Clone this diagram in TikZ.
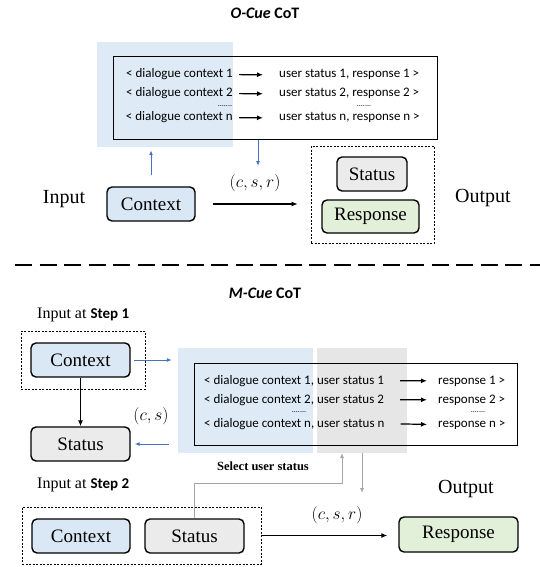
\documentclass[tikz,border=0pt]{standalone}
\usepackage{fontspec}
\setmainfont{Liberation Serif}
\newfontfamily\tnr{Liberation Serif}
\newfontfamily\calib{Carlito}
\usetikzlibrary{arrows.meta}

\definecolor{ctxblue}{HTML}{DAE8F5}
\definecolor{stagray}{HTML}{EBEBEB}
\definecolor{resgreen}{HTML}{E2F0D9}
\definecolor{shadeblue}{HTML}{DEEBF7}
\definecolor{shadegray}{HTML}{E7E6E6}
\definecolor{arrblue}{HTML}{4472C4}
\definecolor{arrgray}{HTML}{A5A5A5}

\begin{document}
\begin{tikzpicture}[x=1pt,y=-1pt,
  nbox/.style={draw,line width=1.4pt,rounded corners=5pt,minimum height=34pt,inner sep=0pt,font=\tnr\fontsize{19}{19}\selectfont},
  ctxbox/.style={nbox,fill=ctxblue},
  stabox/.style={nbox,fill=stagray},
  resbox/.style={nbox,fill=resgreen},
  grpbox/.style={draw,line width=0.6pt,dash pattern=on 2pt off 1.5pt,inner sep=0pt},
  shade/.style={inner sep=0pt,minimum height=105pt},
  tablebox/.style={draw,line width=1pt,inner sep=0pt},
  row/.style={inner sep=0pt,font=\calib\fontsize{13}{13}\selectfont},
  dots/.style={inner sep=0pt,font=\calib\fontsize{8}{8}\selectfont},
  lbl/.style={font=\tnr\fontsize{20}{20}\selectfont},
  steplbl/.style={anchor=west,inner sep=0pt,font=\tnr\fontsize{16}{16}\selectfont},
  mathlbl/.style={font=\fontsize{19}{19}\selectfont},
  title/.style={font=\calib\bfseries\fontsize{16}{16}\selectfont},
  karr/.style={-{Latex[length=6pt,width=5pt]},line width=1.2pt},
  barr/.style={-{Latex[length=5pt,width=4pt]},arrblue,line width=1pt},
  garr/.style={-{Latex[length=5pt,width=4pt]},arrgray,line width=1pt}]
\useasboundingbox (0,0) rectangle (540,567);

% O-Cue CoT
\node[title] (otitle) at (265,13) {{\itshape O-Cue} CoT};
\node[shade,fill=shadeblue,minimum width=136pt] (oshade) at (165,94.5) {};
\node[tablebox,minimum width=324pt,minimum height=82pt] (otable) at (275,98) {};
\foreach \i/\y in {1/78,2/97,n/121}{
  \node[row,anchor=base east] (ol\i) at (233,\y) {< dialogue context \i};
  \node[row,anchor=base west] (or\i) at (279,\y) {user status \i, response \i\ >};
  \draw[karr,shorten <=6pt,shorten >=16pt] (ol\i.east) -- (or\i.west);
}
\node[dots] (odl) at (225,106) {.......};
\node[dots] (odr) at (364,106) {.......};

\node[lbl] (oin) at (64,199) {Input};
\node[ctxbox,minimum width=88pt] (octx) at (151,204) {Context};
\node[grpbox,minimum width=123pt,minimum height=97pt] (oout) at (372.5,194.5) {};
\node[stabox,minimum width=70pt] (osta) at (372,174) {Status};
\node[resbox,minimum width=97pt,minimum height=33pt] (ores) at (370.5,216.5) {Response};
\node[lbl] (oouttxt) at (483,198) {Output};
\node[mathlbl] (ocsr) at (255,183) {$(c,s,r)$};
\coordinate (odown) at (258,166);

\draw[barr,shorten <=11pt,shorten >=3pt] (octx.north) -- (octx.north |- oshade.south);
\draw[barr] (otable.south -| odown) -- (odown);
\draw[karr,shorten <=17pt,shorten >=13pt] (octx.east) -- (oout.west |- octx.east);

\draw[line width=2pt,dash pattern=on 17pt off 7.5pt] (15,265) -- (540,265);

% M-Cue CoT
\node[title] (mtitle) at (265,293) {{\itshape M-Cue} CoT};
\node[steplbl] (mstep1) at (37,315) {Input at {\calib\bfseries\fontsize{15}{15}\selectfont Step 1}};
\node[grpbox,minimum width=124pt,minimum height=58pt] (mgrp1) at (83,360) {};
\node[ctxbox,minimum width=99pt] (mctx1) at (80.5,360) {Context};
\node[stabox,minimum width=99pt] (msta1) at (80.5,444) {Status};
\node[mathlbl] (mcs) at (151,416) {$(c,s)$};

\node[shade,fill=shadeblue,minimum width=135pt] (mshadeb) at (245.5,400.5) {};
\node[shade,fill=shadegray,minimum width=90pt] (mshadeg) at (362,400.5) {};
\node[tablebox,minimum width=323pt,minimum height=82pt] (mtable) at (355.5,404) {};
\foreach \i/\y in {1/384,2/403,n/427}{
  \node[row,anchor=base west] (ml\i) at (204,\y) {< dialogue context \i, user status \i};
  \node[row,anchor=base west] (mr\i) at (438,\y) {response \i\ >};
  \draw[karr,shorten <=16pt,shorten >=11pt] (ml\i.east) -- (mr\i.west);
}
\node[dots] (mdl) at (299,412) {.......};
\node[dots] (mdr) at (478,412) {.......};
\node[font=\tnr\bfseries\fontsize{12.5}{12.5}\selectfont] (msel) at (263,466) {Select user status};

\node[steplbl] (mstep2) at (37,485) {Input at {\calib\bfseries\fontsize{15}{15}\selectfont Step 2}};
\node[grpbox,minimum width=239pt,minimum height=57pt] (mgrp2) at (141.5,535.5) {};
\node[ctxbox,minimum width=98pt] (mctx2) at (81,536) {Context};
\node[stabox,minimum width=99pt] (msta2) at (194.5,536) {Status};
\node[resbox,minimum width=119pt,minimum height=35pt] (mres) at (458.5,534.5) {Response};
\node[lbl] (mouttxt) at (466,489) {Output};
\node[mathlbl] (mcsr) at (337,515) {$(c,s,r)$};
\coordinate (mbend) at (342,483);
\coordinate (mup) at (342,453);
\coordinate (mdown) at (362,493);

\draw[karr] (mctx1) -- (msta1);
\draw[barr,shorten <=3pt,shorten >=6pt] (mctx1.east) -- (mshadeb.west |- mctx1.east);
\draw[barr,shorten <=9pt,shorten >=4pt] (mshadeb.west |- msta1.east) -- (msta1.east);
\draw[garr] (msta2.north) |- (mbend) -- (mup);
\draw[garr] (mshadeg.south) -- (mdown);
\draw[karr,shorten >=11pt] (mgrp2.east) -- (mres.west |- mgrp2.east);
\end{tikzpicture}
\end{document}
